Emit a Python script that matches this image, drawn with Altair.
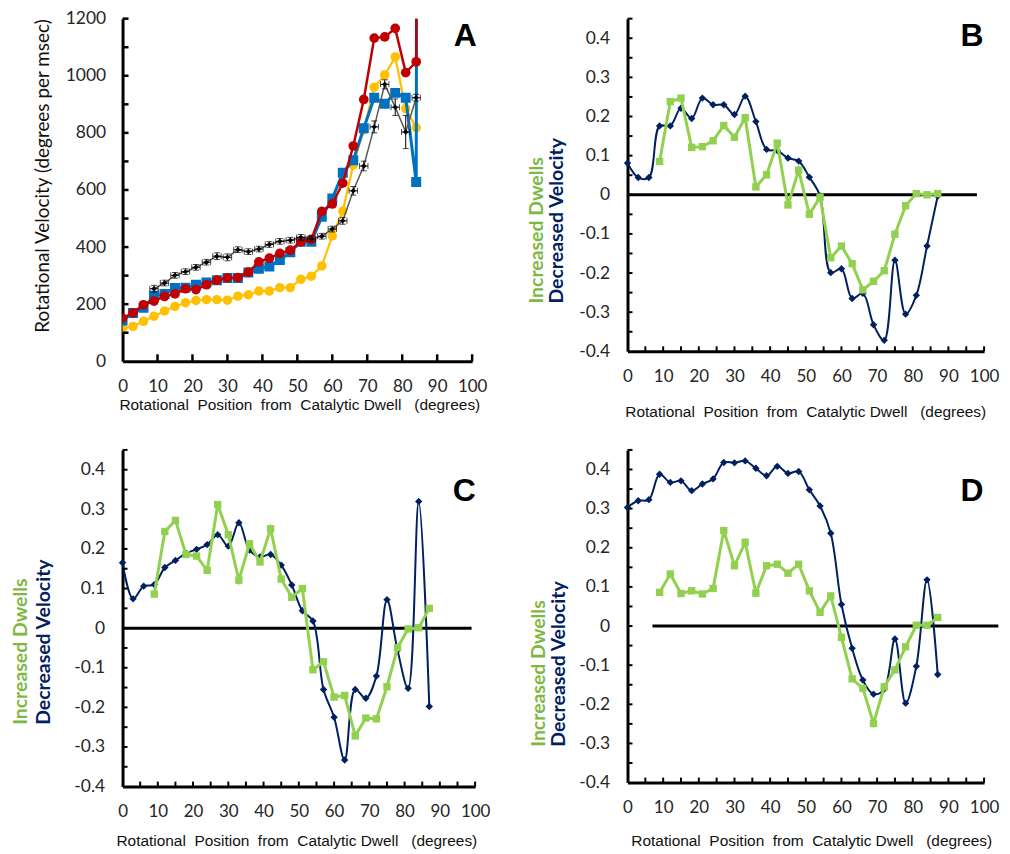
import altair as alt
import pandas as pd

# ---------------- data ----------------
# Panel A : rotational velocity (degrees per msec) vs rotational position (degrees)
A_X = [0, 3, 6, 9, 12, 15, 18, 21, 24, 27, 30, 33, 36, 39, 42, 45, 48, 51, 54, 57,
       60, 63, 66, 69, 72, 75, 78, 81, 84, 87]
# the last value of each coloured series is far above the 1200 limit (line leaves the plot)
A_BLUE = [143, 169, 187, 230, 236, 257, 258, 268, 276, 284, 292, 292, 311, 324, 332, 355,
          382, 419, 419, 506, 570, 660, 704, 816, 923, 902, 940, 923, 628, 20000]
A_RED = [151, 170, 198, 211, 227, 236, 254, 251, 268, 284, 292, 293, 312, 348, 361, 378,
         389, 418, 427, 525, 551, 624, 754, 917, 1132, 1136, 1166, 1011, 1049, 20000]
A_YELLOW = [116, 122, 140, 158, 176, 192, 205, 213, 216, 216, 214, 228, 233, 246, 246, 258,
            258, 287, 298, 334, 439, 526, 688, 810, 960, 1003, 1066, 885, 818, 20000]
A_BLACK_X = [9, 12, 15, 18, 21, 24, 27, 30, 33, 36, 39, 42, 45, 48, 51, 54, 57, 60, 63, 66,
             69, 72, 75, 78, 81, 84]
A_BLACK = [254, 274, 301, 314, 329, 347, 368, 364, 391, 384, 393, 409, 420, 424, 434, 429,
           438, 463, 492, 597, 684, 821, 970, 890, 803, 923]
A_BLACK_YERR = [12, 10, 10, 10, 10, 10, 12, 12, 10, 10, 10, 10, 10, 10, 10, 10,
                10, 10, 12, 15, 17, 21, 16, 29, 58, 12]
A_BLACK_XERR = [1.2, 1.2, 1.2, 1.2, 1.2, 1.2, 1.2, 1.2, 1.2, 1.2, 1.2, 1.2, 1.2, 1.2, 1.2, 1.2,
                1.2, 1.2, 1.2, 1.2, 1.2, 1.2, 1.2, 1.2, 1.2, 1.2]
A_Y_LABELS = [0, 200, 400, 600, 800, 1000, 1200]
A_Y_TICKS = [100, 200, 300, 400, 500, 600, 700, 800, 900, 1000, 1100, 1200]
A_X_TICKS = [10, 20, 30, 40, 50, 60, 70, 80, 90, 100]

# Panels B, C, D : increased dwells (green) / decreased velocity (navy)
NAVY_X = [0, 3, 6, 9, 12, 15, 18, 21, 24, 27, 30, 33, 36, 39, 42, 45, 48, 51, 54, 57,
          60, 63, 66, 69, 72, 75, 78, 81, 84, 87]
GREEN_X = [9, 12, 15, 18, 21, 24, 27, 30, 33, 36, 39, 42, 45, 48, 51, 54, 57,
           60, 63, 66, 69, 72, 75, 78, 81, 84, 87]

B_NAVY = [0.081, 0.044, 0.044, 0.176, 0.176, 0.221, 0.195, 0.247, 0.230, 0.230,
          0.205, 0.252, 0.187, 0.116, 0.113, 0.094, 0.086, 0.045, -0.003, -0.199,
          -0.189, -0.265, -0.252, -0.332, -0.372, -0.167, -0.305, -0.257, -0.131, -0.003]
B_GREEN = [0.085, 0.238, 0.247, 0.121, 0.123, 0.138, 0.177, 0.147, 0.197, 0.020,
           0.051, 0.132, -0.026, 0.063, -0.050, -0.006, -0.161, -0.131, -0.176, -0.243,
           -0.221, -0.194, -0.101, -0.028, 0.003, 0.0, 0.003]

C_NAVY = [0.165, 0.074, 0.106, 0.110, 0.153, 0.171, 0.189, 0.199, 0.211, 0.236,
          0.207, 0.266, 0.197, 0.180, 0.186, 0.159, 0.109, 0.044, 0.018, -0.155,
          -0.225, -0.333, -0.155, -0.177, -0.121, 0.072, -0.056, -0.152, 0.320, -0.198]
C_GREEN = [0.086, 0.244, 0.272, 0.186, 0.182, 0.146, 0.312, 0.236, 0.121, 0.213,
           0.167, 0.251, 0.124, 0.078, 0.100, -0.105, -0.085, -0.174, -0.170, -0.272,
           -0.227, -0.229, -0.148, -0.049, -0.002, 0.001, 0.050]

D_NAVY = [0.303, 0.320, 0.323, 0.388, 0.367, 0.371, 0.346, 0.363, 0.376, 0.418,
          0.417, 0.422, 0.403, 0.384, 0.408, 0.390, 0.395, 0.348, 0.307, 0.237,
          0.055, -0.057, -0.138, -0.174, -0.161, -0.033, -0.197, -0.103, 0.118, -0.124]
D_GREEN = [0.086, 0.133, 0.083, 0.090, 0.082, 0.096, 0.244, 0.154, 0.214, 0.084,
           0.154, 0.158, 0.135, 0.158, 0.090, 0.035, 0.077, -0.029, -0.135, -0.159,
           -0.249, -0.155, -0.112, -0.053, 0.002, 0.002, 0.022]

ZERO_B = [0, 98]
ZERO_C = [0, 99]
ZERO_D = [7, 104]

X_LABELS = [0, 10, 20, 30, 40, 50, 60, 70, 80, 90, 100]
D_Y_LABELS = [-0.4, -0.3, -0.2, -0.1, 0, 0.1, 0.2, 0.3, 0.4]
D_Y_TICKS = [-0.35, -0.3, -0.25, -0.2, -0.15, -0.1, -0.05, 0, 0.05, 0.1, 0.15, 0.2,
             0.25, 0.3, 0.35, 0.4, 0.45]
D_X_TICKS = [5, 10, 15, 20, 25, 30, 35, 40, 45, 50, 55, 60, 65, 70, 75, 80, 85, 90, 95, 100]

X_TITLE = "Rotational\u00a0 Position\u00a0 from\u00a0 Catalytic Dwell\u00a0\u00a0 (degrees)"
A_Y_TITLE = "Rotational Velocity (degrees per msec)"
T_GREEN = "Increased Dwells"
T_NAVY = "Decreased Velocity"

# ---------------- style ----------------
LABEL_FONT = "Lato"
ARIAL = "Liberation Sans"
LABEL_COLOR = "#262626"
NAVY = "#002060"
GREEN = "#92D050"
GREEN_TXT = "#7EB843"
BLUE = "#0070C0"
RED = "#C00000"
YELLOW = "#FFC000"
LBL = 17

X_AXIS = alt.Axis(values=X_LABELS, title=None, grid=False, ticks=False,
                  domainColor="black", domainWidth=3, labelFont=LABEL_FONT,
                  labelFontSize=LBL, labelColor=LABEL_COLOR, labelPadding=17,
                  labelFlush=False, labelOverlap=False)
YA_AXIS = alt.Axis(values=A_Y_LABELS, title=None, grid=False, ticks=False, format="d",
                   domainColor="black", domainWidth=3, labelFont=LABEL_FONT,
                   labelFontSize=17.5, labelColor=LABEL_COLOR, labelPadding=17,
                   labelOverlap=False)
YD_AXIS = alt.Axis(values=D_Y_LABELS, title=None, grid=False, ticks=False,
                   domainColor="black", domainWidth=3, labelFont=LABEL_FONT,
                   labelFontSize=17.5, labelColor=LABEL_COLOR, labelPadding=18,
                   labelOverlap=False,
                   labelExpr="datum.value == 0 ? '0' : (datum.value < 0 ? '-' : '') + format(abs(datum.value), '.1f')")


def text_layer(txt, x, y, **kw):
    return alt.Chart(pd.DataFrame({"t": [txt]})).mark_text(**kw).encode(
        text="t:N", x=alt.value(x), y=alt.value(y))


# ---------------- panel A ----------------
W_A, H_A = 351, 344
xA = alt.Scale(domain=[0, 100], nice=False)
yA = alt.Scale(domain=[0, 1200], nice=False)


def XA(f):
    return alt.X(f"{f}:Q", scale=xA, axis=X_AXIS)


def YA(f):
    return alt.Y(f"{f}:Q", scale=yA, axis=YA_AXIS)


dfA = pd.DataFrame({"x": A_X, "blue": A_BLUE, "red": A_RED, "yellow": A_YELLOW})
dfK = pd.DataFrame({
    "x": A_BLACK_X, "y": A_BLACK,
    "ylo": [v - e for v, e in zip(A_BLACK, A_BLACK_YERR)],
    "yhi": [v + e for v, e in zip(A_BLACK, A_BLACK_YERR)],
    "xlo": [v - e for v, e in zip(A_BLACK_X, A_BLACK_XERR)],
    "xhi": [v + e for v, e in zip(A_BLACK_X, A_BLACK_XERR)],
})


def a_series(col, color, mark, size, width):
    line = alt.Chart(dfA).mark_line(color=color, strokeWidth=width, clip=True).encode(
        x=XA("x"), y=YA(col))
    if mark == "square":
        pts = alt.Chart(dfA).mark_square(color=color, size=size, opacity=1, clip=True)
    else:
        pts = alt.Chart(dfA).mark_circle(color=color, size=size, opacity=1, clip=True)
    pts = pts.encode(x=XA("x"), y=YA(col))
    return [line, pts]


black_line = alt.Chart(dfK).mark_line(color="#595959", strokeWidth=1.5).encode(
    x=XA("x"), y=YA("y"))
black_ev = alt.Chart(dfK).mark_errorbar(ticks=True, color="black", thickness=1, size=6).encode(
    x=XA("x"), y=YA("ylo"), y2="yhi:Q")
black_eh = alt.Chart(dfK).mark_errorbar(ticks=True, color="black", thickness=1, size=6).encode(
    y=YA("y"), x=XA("xlo"), x2="xhi:Q")
black_pts = alt.Chart(dfK).mark_point(shape="diamond", filled=True, size=30, color="black",
                                      opacity=1).encode(x=XA("x"), y=YA("y"))

ytickA = alt.Chart(pd.DataFrame({"t": A_Y_TICKS})).mark_rule(color="black", strokeWidth=2.5).encode(
    y=YA("t"), x=alt.value(0), x2=alt.value(6))
xtickA = alt.Chart(pd.DataFrame({"t": A_X_TICKS})).mark_rule(color="black", strokeWidth=2.5).encode(
    x=XA("t"), y=alt.value(H_A), y2=alt.value(H_A - 7))

panelA = alt.layer(
    *a_series("yellow", YELLOW, "circle", 90, 2.2),
    *a_series("blue", BLUE, "square", 100, 3),
    *a_series("red", RED, "circle", 95, 2.5),
    black_line, black_ev, black_eh, black_pts,
    ytickA, xtickA,
    text_layer("A", 344, 27, font=ARIAL, fontSize=32, fontWeight="bold",
               align="center", baseline="alphabetic", color="black"),
    text_layer(A_Y_TITLE, -80, 158, font=LABEL_FONT, fontSize=19, angle=270,
               align="center", baseline="middle", color="#111111"),
    text_layer(X_TITLE, 178, 388, font=ARIAL, fontSize=15.5, align="center",
               baseline="middle", color="#111111"),
).properties(width=W_A, height=H_A)


# ---------------- panels B, C, D ----------------
def diff_panel(w, h, navy, green, zero, letter, letter_xy, tg, tn, tb, xt):
    xs = alt.Scale(domain=[0, 100], nice=False)
    ys = alt.Scale(domain=[-0.4, 0.45], nice=False)

    def X(f):
        return alt.X(f"{f}:Q", scale=xs, axis=X_AXIS)

    def Y(f):
        return alt.Y(f"{f}:Q", scale=ys, axis=YD_AXIS)

    dfn = pd.DataFrame({"x": NAVY_X, "v": navy})
    dfg = pd.DataFrame({"x": GREEN_X, "v": green})
    zdf = pd.DataFrame({"x0": [zero[0]], "x1": [zero[1]], "y": [0]})
    zline = alt.Chart(zdf).mark_rule(color="black", strokeWidth=3).encode(
        x=X("x0"), x2="x1:Q", y=Y("y"))
    nline = alt.Chart(dfn).mark_line(color=NAVY, strokeWidth=2, interpolate="catmull-rom").encode(
        x=X("x"), y=Y("v"))
    npts = alt.Chart(dfn).mark_point(shape="diamond", filled=True, size=55, color=NAVY,
                                     opacity=1).encode(x=X("x"), y=Y("v"))
    gline = alt.Chart(dfg).mark_line(color=GREEN, strokeWidth=3).encode(x=X("x"), y=Y("v"))
    gpts = alt.Chart(dfg).mark_square(size=55, color=GREEN, opacity=1).encode(x=X("x"), y=Y("v"))
    ytk = alt.Chart(pd.DataFrame({"t": D_Y_TICKS})).mark_rule(color="black", strokeWidth=2).encode(
        y=Y("t"), x=alt.value(0), x2=alt.value(5))
    xtk = alt.Chart(pd.DataFrame({"t": D_X_TICKS})).mark_rule(color="black", strokeWidth=2).encode(
        x=X("t"), y=alt.value(h), y2=alt.value(h - 5))
    return alt.layer(
        zline, nline, npts, gline, gpts, ytk, xtk,
        text_layer(letter, letter_xy[0], letter_xy[1], font=ARIAL, fontSize=32,
                   fontWeight="bold", align="center", baseline="alphabetic", color="black"),
        text_layer(T_GREEN, tg, tb, font=LABEL_FONT, fontSize=19.5, fontWeight="bold",
                   angle=270, align="left", baseline="alphabetic", color=GREEN_TXT),
        text_layer(T_NAVY, tn, tb, font=LABEL_FONT, fontSize=19.5, fontWeight="bold",
                   angle=270, align="left", baseline="alphabetic", color=NAVY),
        text_layer(X_TITLE, xt[0], xt[1], font=ARIAL, fontSize=15.5, align="center",
                   baseline="middle", color="#111111"),
    ).properties(width=w, height=h)


panelB = diff_panel(358, 334, B_NAVY, B_GREEN, ZERO_B, "B", (346, 27), -85, -65, 286, (179, 395))
panelC = diff_panel(354, 338, C_NAVY, C_GREEN, ZERO_C, "C", (343, 51), -96, -73, 276, (175, 393))
panelD = diff_panel(358, 334, D_NAVY, D_GREEN, ZERO_D, "D", (346, 51), -83, -63, 298, (185, 393))

chart = alt.concat(panelA, panelB, panelC, panelD, columns=2,
                   spacing={"row": 89, "column": 153}, bounds="flush").configure_view(
    strokeWidth=0).properties(padding={"left": 3, "top": 0, "right": 2, "bottom": 2})

chart.save("out.html", embed_options={"renderer": "svg", "actions": False})
